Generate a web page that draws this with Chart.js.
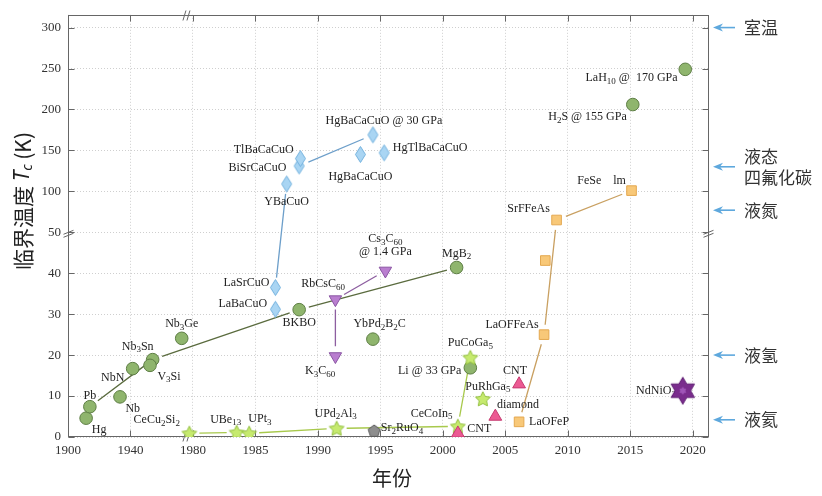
<!DOCTYPE html>
<html>
<head>
<meta charset="utf-8">
<script src="https://cdn.jsdelivr.net/npm/chart.js@4.4.0/dist/chart.umd.min.js"></script>
<style>
  html, body { margin: 0; padding: 0; background: #fff; }
</style>
</head>
<body>
<canvas id="myChart" width="822" height="496"></canvas>
<script>
// axis ticks (both axes are broken: equal spacing per tick)
const xTicks = [1900, 1940, 1980, 1985, 1990, 1995, 2000, 2005, 2010, 2015, 2020];
const yTicks = [0, 10, 20, 30, 40, 50, 100, 150, 200, 250, 300];

// conventional (BCS) superconductors
const convNames = ['Hg', 'Pb', 'Nb', 'NbN', 'Nb_3Sn', 'V_3Si', 'Nb_3Ge', 'BKBO', 'MgB_2', 'YbPd_2B_2C', 'Li @ 33 GPa', 'H_2S @ 155 GPa', 'LaH_{10} @  170 GPa'];
const convYears = [1911.6, 1914, 1933.3, 1941.4, 1954.2, 1952.5, 1972.8, 1988.5, 2001.1, 1994.4, 2002.2, 2015.2, 2019.4];
const convTc = [4.6, 7.4, 9.8, 16.7, 18.9, 17.5, 24.1, 31.1, 41.4, 23.9, 16.9, 206, 249];
const convLinks = [[1, 4], [4, 7], [7, 8]];

// cuprates
const cuprateNames = ['LaBaCuO', 'LaSrCuO', 'YBaCuO', 'BiSrCaCuO', 'TlBaCaCuO', 'HgBaCaCuO', 'HgBaCaCuO @ 30 GPa', 'HgTlBaCaCuO'];
const cuprateYears = [1986.6, 1986.6, 1987.5, 1988.5, 1988.6, 1993.4, 1994.4, 1995.3];
const cuprateTc = [31.2, 36.5, 109, 131, 140, 145, 169, 147];
const cuprateLinks = [[1, 2], [3, 6]];

// fullerides
const c60Names = ['K_3C_{60}', 'RbCsC_{60}', 'Cs_3C_{60}\n@ 1.4 GPa'];
const c60Years = [1991.4, 1991.4, 1995.4];
const c60Tc = [19.7, 33.6, 40.6];
const c60Links = [[0, 1], [1, 2]];

// heavy fermions
const hfNames = ['CeCu_2Si_2', 'UBe_{13}', 'UPt_3', 'UPd_2Al_3', 'CeCoIn_5', 'PuCoGa_5', 'PuRhGa_5'];
const hfYears = [1977.7, 1983.5, 1984.5, 1991.5, 2001.2, 2002.2, 2003.2];
const hfTc = [0.9, 1.1, 0.9, 2.1, 2.6, 19.4, 9.3];
const hfLinks = [[0, 1], [2, 3], [3, 4], [4, 5]];

// ruthenate
const ruNames = ['Sr_2RuO_4'];
const ruYears = [1994.5];
const ruTc = [1.5];

// carbon
const carbonNames = ['CNT', 'diamond', 'CNT'];
const carbonYears = [2001.2, 2004.2, 2006.1];
const carbonTc = [0.9, 5.0, 12.9];

// iron based
const ironNames = ['LaOFeP', 'LaOFFeAs', '', 'SrFFeAs', 'FeSe    lm'];
const ironYears = [2006.1, 2008.1, 2008.2, 2009.1, 2015.1];
const ironTc = [3.7, 25.0, 43.1, 65, 100.9];
const ironLinks = [[0, 1], [1, 3], [3, 4]];

// nickelate
const niNames = ['NdNiO_2'];
const niYears = [2019.2];
const niTc = [11.3];

// coolant reference temperatures (right side)
const coolantNames = ['室温', '液态\n四氟化碳', '液氮', '液氢', '液氦'];
const coolantTemps = [300, 130, 77, 20, 4.2];

// ---------- broken scale ----------
function warpX(v) { return v <= 1980 ? (v - 1900) / 40 : 2 + (v - 1980) / 5; }
function unwarpX(u) { return u <= 2 ? 1900 + 40 * u : 1980 + 5 * (u - 2); }
function warpY(v) { return v <= 50 ? v / 10 : 5 + (v - 50) / 50; }
function unwarpY(u) { return u <= 5 ? 10 * u : 50 + 50 * (u - 5); }
const warps = { x: [warpX, unwarpX], y: [warpY, unwarpY] };

class BrokenScale extends Chart.LinearScale {
  static id = 'broken';
  static defaults = {};
  getPixelForValue(value) {
    const f = warps[this.id][0];
    const a = f(this.min), b = f(this.max);
    return this.getPixelForDecimal((f(value) - a) / (b - a));
  }
  getValueForPixel(pixel) {
    const [f, g] = warps[this.id];
    const a = f(this.min), b = f(this.max);
    return g(a + this.getDecimalForPixel(pixel) * (b - a));
  }
}
Chart.register(BrokenScale);

// ---------- marker images ----------
function makeCanvas(w, h, draw) {
  const c = document.createElement('canvas');
  c.width = w; c.height = h;
  const g = c.getContext('2d');
  draw(g, w, h);
  return c;
}
function starPath(g, cx, cy, n, R, r) {
  g.beginPath();
  for (let i = 0; i < 2 * n; i++) {
    const a = -Math.PI / 2 + i * Math.PI / n;
    const rr = i % 2 ? r : R;
    g.lineTo(cx + rr * Math.cos(a), cy + rr * Math.sin(a));
  }
  g.closePath();
}
const diamondImg = makeCanvas(13, 19, (g) => {
  g.beginPath(); g.moveTo(6.5, 1.5); g.lineTo(11.5, 9.5); g.lineTo(6.5, 17.5); g.lineTo(1.5, 9.5); g.closePath();
  g.fillStyle = '#a9d5f3'; g.fill(); g.strokeStyle = '#72b1de'; g.lineWidth = 1; g.stroke();
});
const starImg = makeCanvas(18, 18, (g) => {
  starPath(g, 9, 9.6, 5, 7.8, 3.9);
  g.fillStyle = '#c6ea6e'; g.fill(); g.strokeStyle = '#92bf3e'; g.lineWidth = 1; g.stroke();
});
const pentaImg = makeCanvas(16, 16, (g) => {
  g.beginPath();
  for (let i = 0; i < 5; i++) {
    const a = -Math.PI / 2 + i * 2 * Math.PI / 5;
    g.lineTo(8 + 6.3 * Math.cos(a), 8.4 + 6.3 * Math.sin(a));
  }
  g.closePath();
  g.fillStyle = '#8d8d8d'; g.fill(); g.strokeStyle = '#5a5a5a'; g.lineWidth = 1; g.stroke();
});
const hexaImg = makeCanvas(32, 32, (g) => {
  starPath(g, 16, 16, 6, 13.5, 7.8);
  g.fillStyle = '#7a2c8d'; g.fill(); g.strokeStyle = '#5c1a70'; g.lineWidth = 1; g.stroke();
  starPath(g, 16, 16, 6, 4, 2.5);
  g.fillStyle = '#a055b8'; g.fill();
});

// ---------- families ----------
const families = [
  { names: niNames, years: niYears, tc: niTc, style: { pointStyle: hexaImg } },
  { names: ironNames, years: ironYears, tc: ironTc, links: ironLinks, line: '#c9a061',
    style: { pointStyle: 'rect', pointRadius: 6.8, backgroundColor: '#f8c878', borderColor: '#e4a850', borderWidth: 1 } },
  { names: carbonNames, years: carbonYears, tc: carbonTc,
    style: { pointStyle: 'triangle', pointRadius: 7.4, backgroundColor: '#ec5a93', borderColor: '#c63a70', borderWidth: 1 } },
  { names: ruNames, years: ruYears, tc: ruTc, style: { pointStyle: pentaImg } },
  { names: hfNames, years: hfYears, tc: hfTc, links: hfLinks, line: '#a8c94c', style: { pointStyle: starImg } },
  { names: c60Names, years: c60Years, tc: c60Tc, links: c60Links, line: '#8d5ea0',
    style: { pointStyle: 'triangle', rotation: 180, pointRadius: 7.2, backgroundColor: '#b97ecf', borderColor: '#8a55a3', borderWidth: 1 } },
  { names: cuprateNames, years: cuprateYears, tc: cuprateTc, links: cuprateLinks, line: '#6d9fca', style: { pointStyle: diamondImg } },
  { names: convNames, years: convYears, tc: convTc, links: convLinks, line: '#5a6b3e',
    style: { pointStyle: 'circle', pointRadius: 6.3, backgroundColor: '#8fb56d', borderColor: '#5e7e45', borderWidth: 1 } },
];

// label placement: [dx, dy, anchor] relative to the marker
const labelPos = {
  NdNiO_2: [-46.7, 0, 'left'],
  LaOFeP: [10, 0, 'left'], LaOFFeAs: [-32, -10, 'center'], SrFFeAs: [-6.6, -10.7, 'right'], 'FeSe    lm': [-5.6, -9.3, 'right'],
  Sr_2RuO_4: [6.7, -3, 'left'],
  'CeCu_2Si_2': [-32.6, -13, 'center'], 'UBe_{13}': [-11, -13, 'center'], UPt_3: [10.7, -14, 'center'],
  UPd_2Al_3: [-1, -15, 'center'], CeCoIn_5: [-26.3, -13, 'center'], PuCoGa_5: [0, -14.7, 'center'], PuRhGa_5: [5, -12.5, 'center'],
  'K_3C_{60}': [-15.3, 15, 'center'], 'RbCsC_{60}': [-12.3, -15.7, 'center'], 'Cs_3C_{60}\n@ 1.4 GPa': [0, -31.7, 'center'],
  LaBaCuO: [-8.3, -5, 'right'], LaSrCuO: [-6, -5, 'right'], YBaCuO: [0, 17.7, 'center'], BiSrCaCuO: [-12.7, 1.6, 'right'],
  TlBaCaCuO: [-6.7, -8.3, 'right'], HgBaCaCuO: [0, 22.7, 'center'], 'HgBaCaCuO @ 30 GPa': [11, -14.3, 'center'], HgTlBaCaCuO: [8.7, -5, 'left'],
  Hg: [13, 12, 'center'], Pb: [0, -11, 'center'], Nb: [12.7, 12, 'center'], NbN: [-20, 9.4, 'center'], Nb_3Sn: [-15, -13, 'center'],
  V_3Si: [19, 11, 'center'], Nb_3Ge: [0, -14, 'center'], BKBO: [0, 13, 'center'], MgB_2: [0, -14, 'center'], YbPd_2B_2C: [6.7, -15, 'center'],
  'Li @ 33 GPa': [-9, 3, 'right'], 'H_2S @ 155 GPa': [-6, 12.5, 'right'], 'LaH_{10} @  170 GPa': [-7.7, 8.5, 'right'],
};
const carbonPos = [[9.4, -4, 'left'], [22.6, -11.7, 'center'], [-4, -13, 'center']];

// ---------- drawing helpers ----------
const serif = '"Liberation Serif", "DejaVu Serif", serif';
const cjk = '"Noto Sans CJK SC", "Noto Sans", sans-serif';

function parseRich(text) {
  const runs = [];
  const re = /_(\{[^}]*\}|.)/g;
  let last = 0, m;
  while ((m = re.exec(text))) {
    if (m.index > last) runs.push([text.slice(last, m.index), false]);
    runs.push([m[1].replace(/[{}]/g, ''), true]);
    last = re.lastIndex;
  }
  if (last < text.length) runs.push([text.slice(last), false]);
  return runs;
}
function drawRich(ctx, text, x, y, align, size) {
  const main = size + 'px ' + serif, sub = Math.round(size * 0.72) + 'px ' + serif;
  const runs = parseRich(text);
  let w = 0;
  runs.forEach(([t, s]) => { ctx.font = s ? sub : main; w += ctx.measureText(t).width; });
  let cx = align === 'left' ? x : align === 'right' ? x - w : x - w / 2;
  ctx.textAlign = 'left';
  ctx.textBaseline = 'middle';
  runs.forEach(([t, s]) => {
    ctx.font = s ? sub : main;
    ctx.fillText(t, cx, s ? y + 3.5 : y);
    cx += ctx.measureText(t).width;
  });
}

const plotDecor = {
  id: 'plotDecor',
  beforeDatasetsDraw(chart) {
    const { ctx, chartArea: a, scales: { x, y } } = chart;
    ctx.save();
    // frame
    const L = Math.round(a.left) + 0.5, R = Math.round(a.right) - 0.5, T = Math.round(a.top) + 0.5, B = Math.round(a.bottom) - 0.5;
    ctx.strokeStyle = '#666';
    ctx.lineWidth = 1;
    ctx.strokeRect(L, T, R - L, B - T);
    // inward ticks on all sides
    ctx.beginPath();
    xTicks.forEach(v => {
      const px = Math.round(x.getPixelForValue(v)) + 0.5;
      ctx.moveTo(px, B); ctx.lineTo(px, B - 6);
      ctx.moveTo(px, T); ctx.lineTo(px, T + 6);
    });
    yTicks.forEach(v => {
      const py = Math.round(y.getPixelForValue(v)) + 0.5;
      ctx.moveTo(L, py); ctx.lineTo(L + 6, py);
      ctx.moveTo(R, py); ctx.lineTo(R - 6, py);
    });
    ctx.stroke();
    // break marks
    const bx = x.getPixelForValue(1980) - 6, by = y.getPixelForValue(50);
    ctx.beginPath();
    [[bx, T], [bx, B]].forEach(([px, py]) => {
      ctx.moveTo(px - 4, py + 5); ctx.lineTo(px - 1, py - 5);
      ctx.moveTo(px, py + 5); ctx.lineTo(px + 3, py - 5);
    });
    [[L, by], [R, by]].forEach(([px, py]) => {
      ctx.moveTo(px - 5, py + 2); ctx.lineTo(px + 5, py - 2);
      ctx.moveTo(px - 5, py + 5); ctx.lineTo(px + 5, py + 1);
    });
    ctx.stroke();

    // connecting lines with gaps at the markers
    const gap = 10;
    families.forEach(f => {
      if (!f.links) return;
      ctx.strokeStyle = f.line;
      ctx.lineWidth = 1.3;
      ctx.beginPath();
      f.links.forEach(([i, j]) => {
        const x1 = x.getPixelForValue(f.years[i]), y1 = y.getPixelForValue(f.tc[i]);
        const x2 = x.getPixelForValue(f.years[j]), y2 = y.getPixelForValue(f.tc[j]);
        const d = Math.hypot(x2 - x1, y2 - y1);
        if (d <= 2 * gap) return;
        const ux = (x2 - x1) / d, uy = (y2 - y1) / d;
        ctx.moveTo(x1 + ux * gap, y1 + uy * gap);
        ctx.lineTo(x2 - ux * gap, y2 - uy * gap);
      });
      ctx.stroke();
    });

    // point labels
    ctx.fillStyle = '#222';
    families.forEach(f => {
      f.names.forEach((name, i) => {
        if (!name) return;
        const p = f.names === carbonNames ? carbonPos[i] : labelPos[name];
        if (!p) return;
        const px = x.getPixelForValue(f.years[i]) + p[0];
        const py = y.getPixelForValue(f.tc[i]) + p[1];
        name.split('\n').forEach((line, k) => drawRich(ctx, line, px, py + k * 12.7, p[2], 12));
      });
    });
    ctx.restore();
  },
  afterDraw(chart) {
    const { ctx, chartArea: a, scales: { y } } = chart;
    ctx.save();
    // coolant arrows
    coolantNames.forEach((name, i) => {
      const py = y.getPixelForValue(coolantTemps[i]);
      const tip = a.right + 4;
      ctx.strokeStyle = '#5ea8dd';
      ctx.fillStyle = '#5ea8dd';
      ctx.lineWidth = 1.6;
      ctx.beginPath(); ctx.moveTo(tip + 6, py); ctx.lineTo(tip + 22, py); ctx.stroke();
      ctx.beginPath(); ctx.moveTo(tip, py); ctx.lineTo(tip + 10, py - 4); ctx.lineTo(tip + 7, py); ctx.lineTo(tip + 10, py + 4); ctx.closePath(); ctx.fill();
      ctx.fillStyle = '#333';
      ctx.font = '17px ' + cjk;
      ctx.textAlign = 'left';
      ctx.textBaseline = 'middle';
      const lines = name.split('\n');
      lines.forEach((t, k) => ctx.fillText(t, tip + 31, py + (k - (lines.length - 1) / 2) * 21));
    });
    // axis titles
    ctx.fillStyle = '#222';
    ctx.font = '20px ' + cjk;
    ctx.textAlign = 'center';
    ctx.textBaseline = 'middle';
    ctx.fillText('年份', 392, 478);

    const parts = [['临界温度 ', '21px ' + cjk, 0], ['T', 'italic 21px "Noto Sans", sans-serif', 0], ['c', 'italic 14px "Noto Sans", sans-serif', 5], [' (K)', '21px ' + cjk, 0]];
    let w = 0;
    parts.forEach(([t, f]) => { ctx.font = f; w += ctx.measureText(t).width; });
    ctx.translate(23, 201);
    ctx.rotate(-Math.PI / 2);
    ctx.textAlign = 'left';
    let cx = -w / 2;
    parts.forEach(([t, f, dy]) => { ctx.font = f; ctx.fillText(t, cx, dy); cx += ctx.measureText(t).width; });
    ctx.restore();
  }
};

const ctx = document.getElementById('myChart');

new Chart(ctx, {
  type: 'scatter',
  data: {
    datasets: families.map(f => Object.assign({
      data: f.years.map((yr, i) => ({ x: yr, y: f.tc[i] })),
      pointHoverRadius: 0,
    }, f.style))
  },
  options: {
    responsive: false,
    animation: false,
    events: [],
    layout: { padding: { left: 0, right: 113, top: 7, bottom: 0 } },
    plugins: { legend: { display: false }, tooltip: { enabled: false } },
    scales: {
      x: {
        type: 'broken',
        position: 'bottom',
        min: 1900,
        max: 2021.3,
        bounds: 'data',
        afterBuildTicks: s => { s.ticks = xTicks.map(v => ({ value: v })); },
        afterFit: s => { s.height = 59; },
        grid: { color: '#cfcfcf', lineWidth: 1, drawTicks: false },
        border: { display: false, dash: [1, 2] },
        ticks: { autoSkip: false, maxRotation: 0, padding: 6, color: '#333', font: { family: serif, size: 13 }, callback: v => String(v) }
      },
      y: {
        type: 'broken',
        position: 'left',
        min: 0,
        max: 315.6,
        bounds: 'data',
        afterBuildTicks: s => { s.ticks = yTicks.map(v => ({ value: v })); },
        afterFit: s => { s.width = 68; },
        grid: { color: '#cfcfcf', lineWidth: 1, drawTicks: false },
        border: { display: false, dash: [1, 2] },
        ticks: { autoSkip: false, padding: 7, color: '#333', font: { family: serif, size: 13 }, callback: v => String(v) }
      }
    }
  },
  plugins: [plotDecor]
});
</script>
</body>
</html>
